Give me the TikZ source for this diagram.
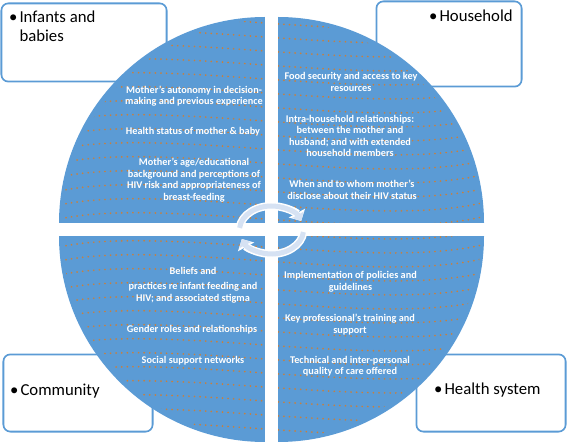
\documentclass[tikz,border=0pt]{standalone}
\usepackage{fontspec}
\setmainfont{Carlito}
\usetikzlibrary{arrows.meta}
\definecolor{quadblue}{HTML}{5B9BD5}
\definecolor{ringblue}{HTML}{D6E2F3}
\definecolor{dotbrown}{HTML}{C8803E}

\begin{document}
\begin{tikzpicture}[
    x=1bp,y=-1bp,
    every node/.style={font=\fontsize{10.3}{11.6}\selectfont},
    catbox/.style={fill=quadblue,rounded corners=8bp,inner sep=0pt,outer sep=0pt},
    catinner/.style={fill=white,rounded corners=6.2bp},
    cat/.style={font=\fontsize{16.8}{18.5}\selectfont,align=left,anchor=north west,inner sep=0pt,text=black},
    factor/.style={font=\fontsize{10.3}{11.6}\selectfont\bfseries,text=white,align=center,inner sep=0pt},
    quad/.style={fill=quadblue},
    texture/.style={dotbrown,line width=1.8bp,dash pattern=on 0.1bp off 5.5bp,line cap=round},
    ringedge/.style={line width=8bp,white,-{Triangle[length=9bp,width=18bp]}},
    ring/.style={line width=5bp,ringblue,-{Triangle[length=7bp,width=13bp]}},
  ]
    \useasboundingbox (0,0) rectangle (567,442);

    % the four category boxes, partly hidden by the circle
    \node[catbox,minimum width=167bp,minimum height=80bp] (infantsbox)   at (84,42.5)   {};
    \node[catbox,minimum width=147bp,minimum height=87bp] (householdbox) at (449,44)    {};
    \node[catbox,minimum width=151bp,minimum height=79bp] (communitybox) at (78,393)    {};
    \node[catbox,minimum width=151bp,minimum height=79bp] (healthbox)    at (491,393)   {};
    \foreach \b in {infantsbox,householdbox,communitybox,healthbox}
      \fill[catinner] ([shift={(1.8,1.8)}]\b.north west) rectangle ([shift={(-1.8,-1.8)}]\b.south east);

    % quadrants
    \foreach \cx/\cy/\a in {265/223/180,278/223/270,265/236/90,278/236/0}
      \fill[quad] (\cx,\cy) -- ++(\a:206) arc[start angle=\a,end angle=\a+90,radius=206] -- cycle;

    % dotted texture
    \begin{scope}
      \clip (271.5,229.5) circle[radius=210];
      \foreach \k in {0,...,31}
        \draw[texture] (55,10+14*\k) .. controls (160,-15+14*\k) and (380,35+14*\k) .. (490,5+14*\k);
    \end{scope}
    \fill[white] (265,15) rectangle (278,443);
    \fill[white] (57,223) rectangle (486,236);

    % circular arrows in the middle
    \coordinate (hub) at (271.5,230);
    \draw[ringedge] ([shift={(185:32 and 24)}]hub) arc[start angle=185,end angle=338,x radius=32,y radius=24];
    \draw[ringedge] ([shift={(5:32 and 24)}]hub) arc[start angle=5,end angle=158,x radius=32,y radius=24];
    \draw[ring] ([shift={(185:32 and 24)}]hub) arc[start angle=185,end angle=338,x radius=32,y radius=24];
    \draw[ring] ([shift={(5:32 and 24)}]hub) arc[start angle=5,end angle=158,x radius=32,y radius=24];

    % category labels
    \node[cat] (infants)   at (9,11)   {•\hspace{2bp}Infants and\\\hphantom{•\hspace{2bp}}babies};
    \node[cat] (household) at (429,10) {•\hspace{2bp}Household};
    \node[cat] (community) at (10,384) {•\hspace{2bp}Community};
    \node[cat] (health)    at (434,383) {•\hspace{2bp}Health system};

    % factors
    \node[factor] (autonomy)      at (194,96)  {Mother's autonomy in decision-\\making and previous experience};
    \node[factor] (healthstatus)  at (193,132) {Health status of mother \& baby};
    \node[factor] (agebackground) at (194,180) {Mother's age/educational\\background and perceptions of\\HIV risk and appropriateness of\\breast-feeding};
    \node[factor] (foodsecurity)  at (351,82)  {Food security and access to key\\resources};
    \node[factor] (intrahousehold) at (350,136) {Intra-household relationships:\\between the mother and\\husband; and with extended\\household members};
    \node[factor] (disclosure)    at (352,190) {When and to whom mother's\\disclose about their HIV status};
    \node[factor] (beliefs)       at (193,285) {Beliefs and\\[3.5bp]practices re infant feeding and\\HIV; and associated stigma};
    \node[factor] (gender)        at (192,330) {Gender roles and relationships};
    \node[factor] (socialsupport) at (193,361) {Social support networks};
    \node[factor] (policies)      at (350.5,281.5) {Implementation of policies and\\guidelines};
    \node[factor] (training)      at (350,324.5) {Key professional's training and\\support};
    \node[factor] (quality)       at (350,366) {Technical and inter-personal\\quality of care offered};
  \end{tikzpicture}
\end{document}
